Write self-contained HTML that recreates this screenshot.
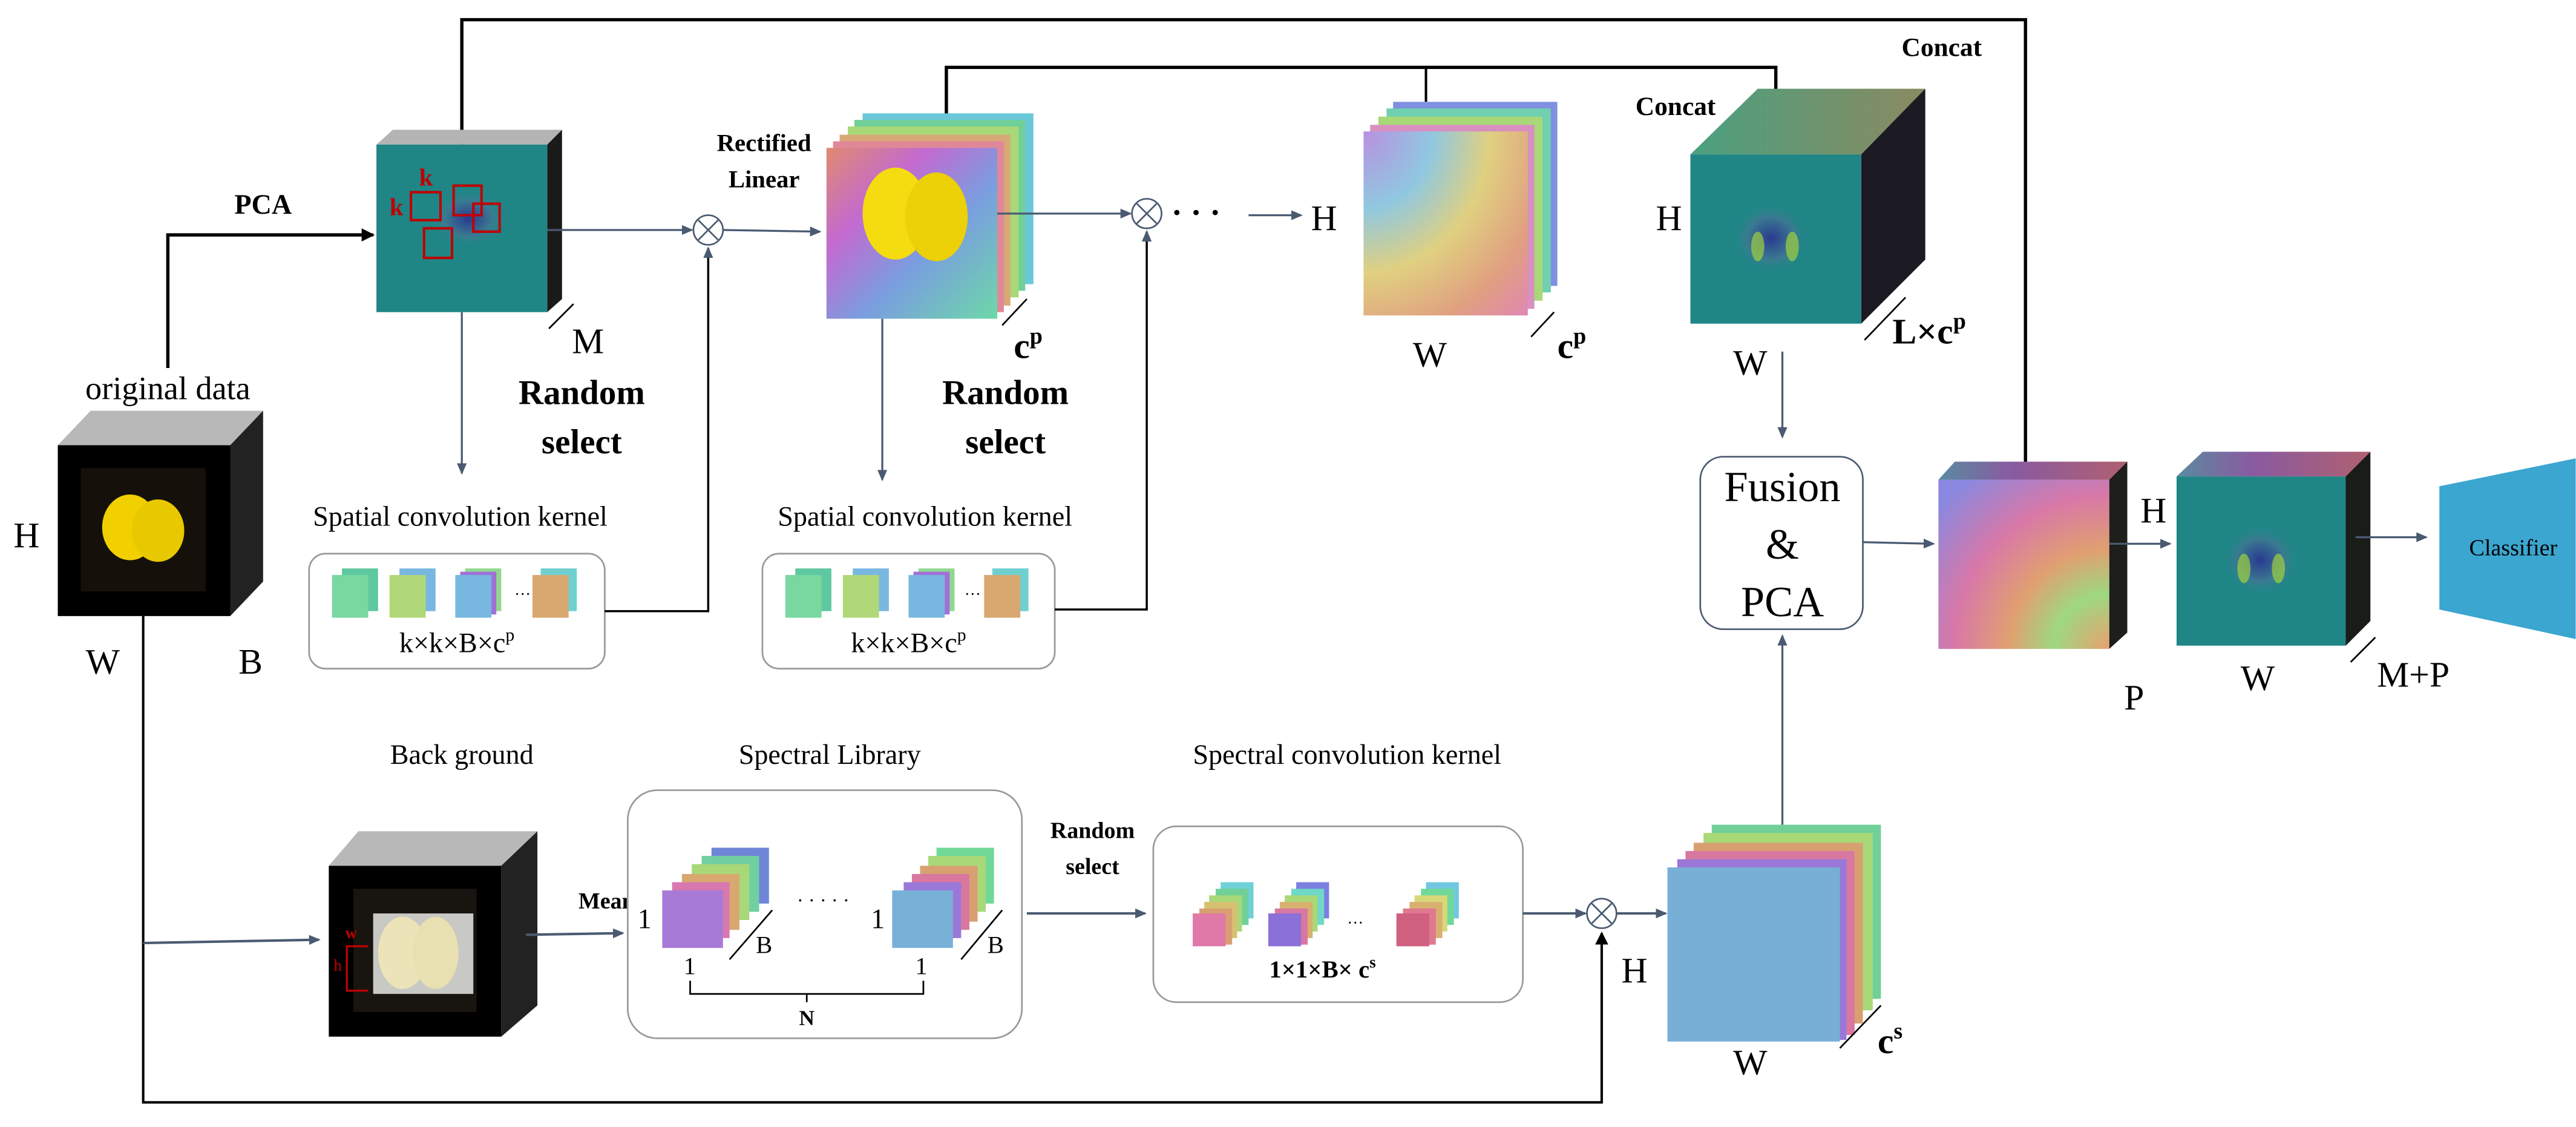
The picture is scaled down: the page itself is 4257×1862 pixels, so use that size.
<!DOCTYPE html>
<html><head><meta charset="utf-8"><style>html,body{margin:0;padding:0;background:#fff}svg{display:block}svg text{font-family:"Liberation Serif","Times New Roman",serif}</style></head><body>
<svg width="4257" height="1862" viewBox="0 0 1568 686" xmlns="http://www.w3.org/2000/svg" font-family="Liberation Serif, serif">
<defs>
<marker id="ab" markerWidth="8" markerHeight="8" refX="7" refY="4" orient="auto" markerUnits="userSpaceOnUse"><path d="M0,0 L8,4 L0,8 z" fill="#000"/></marker>
<marker id="as" markerWidth="7" markerHeight="6" refX="6" refY="3" orient="auto" markerUnits="userSpaceOnUse"><path d="M0,0 L7,3 L0,6 z" fill="#4a5a72"/></marker>
<linearGradient id="rb" x1="0" y1="0" x2="1" y2="1"><stop offset="0" stop-color="#e08a70"/><stop offset=".3" stop-color="#c36ad0"/><stop offset=".6" stop-color="#7a9ee0"/><stop offset="1" stop-color="#6ed8a8"/></linearGradient>
<radialGradient id="rb2" cx="1" cy="1" r="1.3"><stop offset="0" stop-color="#e8a070"/><stop offset=".25" stop-color="#9ed880"/><stop offset=".45" stop-color="#e0a070"/><stop offset=".7" stop-color="#d878a8"/><stop offset="1" stop-color="#8a88e0"/></radialGradient>
<radialGradient id="rb3" cx="0" cy="0" r="1.4"><stop offset="0" stop-color="#b890e0"/><stop offset=".3" stop-color="#90c8e0"/><stop offset=".55" stop-color="#e0d080"/><stop offset=".8" stop-color="#e0a080"/><stop offset="1" stop-color="#e088b0"/></radialGradient>
<linearGradient id="tg" x1="0" x2="1"><stop offset="0" stop-color="#4aa080"/><stop offset="1" stop-color="#8a8a60"/></linearGradient>
<linearGradient id="tp" x1="0" x2="1"><stop offset="0" stop-color="#5a8aa0"/><stop offset=".4" stop-color="#8a5aa0"/><stop offset="1" stop-color="#b06070"/></linearGradient>
<radialGradient id="blob"><stop offset="0" stop-color="#2a3a90"/><stop offset=".6" stop-color="#3a7a90"/><stop offset="1" stop-color="#1f8a8a" stop-opacity="0"/></radialGradient>
</defs>

<polyline points="281,88 281,12 1233,12 1233,290" fill="none" stroke="#000" stroke-width="2" marker-end="url(#ab)"/>
<polyline points="576,70 576,41 1081,41 1081,93" fill="none" stroke="#000" stroke-width="2" marker-end="url(#ab)"/>
<line x1="868" y1="41" x2="868" y2="62" stroke="#000" stroke-width="1.5"/>
<polyline points="102,224 102,143 227,143" fill="none" stroke="#000" stroke-width="2" marker-end="url(#ab)"/>
<text x="160" y="130" font-size="17" font-weight="bold" text-anchor="middle">PCA</text>

<polygon points="35,271 55,250 160,250 140,271" fill="#b8b8b8"/>
<polygon points="140,271 160,250 160,354 140,375" fill="#222"/>
<rect x="35" y="271" width="105" height="104" fill="#000"/>
<rect x="49" y="285" width="76" height="75" fill="#15110a"/>
<ellipse cx="79" cy="321" rx="17" ry="20" fill="#f2d000"/><ellipse cx="96" cy="323" rx="16" ry="19" fill="#e8c800"/>
<text x="102" y="243" font-size="20" text-anchor="middle">original data</text>
<text x="8" y="333" font-size="22">H</text>
<text x="52" y="410" font-size="22">W</text>
<text x="145" y="410" font-size="22">B</text>

<polygon points="229,88 239,79 342,79 333,88" fill="#b4b4b4"/>
<polygon points="333,88 342,79 342,182 333,190" fill="#1a1a1a"/>
<rect x="229" y="88" width="104" height="102" fill="#1f8585"/>
<ellipse cx="285" cy="133" rx="24" ry="18" fill="url(#blob)"/>
<g fill="none" stroke="#c00000" stroke-width="1.5"><rect x="250" y="117" width="18" height="17"/><rect x="276" y="113" width="17" height="18"/><rect x="288" y="124" width="16" height="17"/><rect x="258" y="139" width="17" height="18"/></g>
<text x="255" y="113" font-size="15" font-weight="bold" fill="#c00000">k</text>
<text x="237" y="131" font-size="15" font-weight="bold" fill="#c00000">k</text>
<line x1="334" y1="200" x2="349" y2="185" stroke="#000" stroke-width="1"/>
<text x="348" y="215" font-size="22">M</text>
<line x1="333" y1="140" x2="421" y2="140" stroke="#4a5a72" stroke-width="1.2" marker-end="url(#as)"/>
<circle cx="431" cy="140" r="9" fill="#fff" stroke="#4a5a72"/><path d="M425,134 L437,146 M437,134 L425,146" stroke="#4a5a72"/>
<line x1="440" y1="140" x2="499" y2="141" stroke="#4a5a72" stroke-width="1.2" marker-end="url(#as)"/>
<text x="465" y="92" font-size="15" font-weight="bold" text-anchor="middle">Rectified</text>
<text x="465" y="114" font-size="15" font-weight="bold" text-anchor="middle">Linear</text>

<rect x="525" y="69" width="104" height="104" fill="#6ac8d8"/>
<rect x="520" y="73" width="104" height="104" fill="#70d098"/>
<rect x="516" y="77" width="104" height="104" fill="#a8d878"/>
<rect x="511" y="82" width="104" height="104" fill="#d8a878"/>
<rect x="507" y="86" width="104" height="104" fill="#e08898"/>
<rect x="503" y="90" width="104" height="104" fill="url(#rb)"/>
<ellipse cx="545" cy="130" rx="20" ry="28" fill="#f4dc10"/><ellipse cx="570" cy="132" rx="19" ry="27" fill="#ecd008"/>
<line x1="610" y1="198" x2="625" y2="182" stroke="#000"/>
<text x="617" y="218" font-size="22" font-weight="bold">c<tspan font-size="14" dy="-9">p</tspan></text>
<line x1="607" y1="130" x2="688" y2="130" stroke="#4a5a72" stroke-width="1.2" marker-end="url(#as)"/>
<circle cx="698" cy="130" r="9" fill="#fff" stroke="#4a5a72"/><path d="M692,124 L704,136 M704,124 L692,136" stroke="#4a5a72"/>
<text x="713" y="136" font-size="20" font-weight="bold">· · ·</text>
<line x1="760" y1="131" x2="792" y2="131" stroke="#4a5a72" stroke-width="1.2" marker-end="url(#as)"/>
<text x="798" y="140" font-size="22">H</text>

<text x="354" y="246" font-size="21" font-weight="bold" text-anchor="middle">Random</text>
<text x="354" y="276" font-size="21" font-weight="bold" text-anchor="middle">select</text>
<text x="612" y="246" font-size="21" font-weight="bold" text-anchor="middle">Random</text>
<text x="612" y="276" font-size="21" font-weight="bold" text-anchor="middle">select</text>
<line x1="281" y1="190" x2="281" y2="288" stroke="#4a5a72" stroke-width="1.2" marker-end="url(#as)"/>
<line x1="537" y1="194" x2="537" y2="292" stroke="#4a5a72" stroke-width="1.2" marker-end="url(#as)"/>
<text x="280" y="320" font-size="17" text-anchor="middle">Spatial convolution kernel</text>
<text x="563" y="320" font-size="17" text-anchor="middle">Spatial convolution kernel</text>

<g>
<rect x="188" y="337" width="180" height="70" rx="10" fill="#fff" stroke="#999"/>
<rect x="208" y="346" width="22" height="26" fill="#60c8a0"/><rect x="202" y="350" width="22" height="26" fill="#78d8a0"/>
<rect x="243" y="346" width="22" height="26" fill="#78b8e0"/><rect x="237" y="350" width="22" height="26" fill="#b0d878"/>
<rect x="283" y="346" width="22" height="26" fill="#90d890"/><rect x="280" y="348" width="22" height="26" fill="#a070d8"/><rect x="277" y="350" width="22" height="26" fill="#78b8e0"/>
<text x="313" y="365" font-size="10">···</text>
<rect x="329" y="346" width="22" height="26" fill="#70d0d0"/><rect x="324" y="350" width="22" height="26" fill="#d8a870"/>
<text x="278" y="397" font-size="17" text-anchor="middle">k×k×B×c<tspan font-size="11" dy="-7">p</tspan></text>
</g>
<g>
<rect x="464" y="337" width="178" height="70" rx="10" fill="#fff" stroke="#999"/>
<rect x="484" y="346" width="22" height="26" fill="#60c8a0"/><rect x="478" y="350" width="22" height="26" fill="#78d8a0"/>
<rect x="519" y="346" width="22" height="26" fill="#78b8e0"/><rect x="513" y="350" width="22" height="26" fill="#b0d878"/>
<rect x="559" y="346" width="22" height="26" fill="#90d890"/><rect x="556" y="348" width="22" height="26" fill="#a070d8"/><rect x="553" y="350" width="22" height="26" fill="#78b8e0"/>
<text x="587" y="365" font-size="10">···</text>
<rect x="604" y="346" width="22" height="26" fill="#70d0d0"/><rect x="599" y="350" width="22" height="26" fill="#d8a870"/>
<text x="553" y="397" font-size="17" text-anchor="middle">k×k×B×c<tspan font-size="11" dy="-7">p</tspan></text>
</g>
<polyline points="368,372 431,372 431,151" fill="none" stroke="#000" stroke-width="1.3" marker-end="url(#as)"/>
<polyline points="642,371 698,371 698,141" fill="none" stroke="#000" stroke-width="1.3" marker-end="url(#as)"/>

<rect x="848" y="62" width="100" height="112" fill="#8090e0"/>
<rect x="844" y="66" width="100" height="112" fill="#70d0b0"/>
<rect x="839" y="71" width="100" height="112" fill="#a8d878"/>
<rect x="834" y="76" width="100" height="112" fill="#d890c0"/>
<rect x="830" y="80" width="100" height="112" fill="url(#rb3)"/>
<line x1="932" y1="205" x2="946" y2="190" stroke="#000"/>
<text x="860" y="223" font-size="22">W</text>
<text x="948" y="218" font-size="22" font-weight="bold">c<tspan font-size="14" dy="-9">p</tspan></text>

<text x="1020" y="70" font-size="16" font-weight="bold" text-anchor="middle">Concat</text>
<text x="1182" y="34" font-size="16" font-weight="bold" text-anchor="middle">Concat</text>
<polygon points="1029,94 1070,54 1172,54 1133,94" fill="url(#tg)"/>
<polygon points="1133,94 1172,54 1172,158 1133,197" fill="#1c1a22"/>
<rect x="1029" y="94" width="104" height="103" fill="#1f8585"/>
<ellipse cx="1078" cy="145" rx="24" ry="22" fill="url(#blob)"/>
<ellipse cx="1070" cy="150" rx="4" ry="9" fill="#a0d040" opacity=".7"/><ellipse cx="1091" cy="150" rx="4" ry="9" fill="#a0d040" opacity=".7"/>
<line x1="1135" y1="207" x2="1160" y2="181" stroke="#000"/>
<text x="1008" y="140" font-size="22">H</text>
<text x="1055" y="228" font-size="22">W</text>
<text x="1152" y="209" font-size="22" font-weight="bold">L×c<tspan font-size="14" dy="-9">p</tspan></text>
<line x1="1085" y1="214" x2="1085" y2="266" stroke="#4a5a72" stroke-width="1.2" marker-end="url(#as)"/>
<rect x="1035" y="278" width="99" height="105" rx="14" fill="#fff" stroke="#4a5a72"/>
<text x="1085" y="305" font-size="26" text-anchor="middle">Fusion</text>
<text x="1085" y="340" font-size="26" text-anchor="middle">&amp;</text>
<text x="1085" y="375" font-size="26" text-anchor="middle">PCA</text>
<line x1="1085" y1="502" x2="1085" y2="387" stroke="#4a5a72" stroke-width="1.2" marker-end="url(#as)"/>
<line x1="1134" y1="330" x2="1177" y2="331" stroke="#4a5a72" stroke-width="1.2" marker-end="url(#as)"/>

<polygon points="1180,292 1190,281 1295,281 1284,292" fill="url(#tp)"/>
<polygon points="1284,292 1295,281 1295,385 1284,395" fill="#1e1e1a"/>
<rect x="1180" y="292" width="104" height="103" fill="url(#rb2)"/>
<line x1="1284" y1="331" x2="1321" y2="331" stroke="#4a5a72" stroke-width="1.2" marker-end="url(#as)"/>
<text x="1303" y="318" font-size="22">H</text>
<text x="1293" y="432" font-size="22">P</text>

<polygon points="1325,290 1341,275 1443,275 1428,290" fill="url(#tp)"/>
<polygon points="1428,290 1443,275 1443,378 1428,393" fill="#1a1c18"/>
<rect x="1325" y="290" width="103" height="103" fill="#1f8585"/>
<ellipse cx="1376" cy="341" rx="24" ry="22" fill="url(#blob)"/>
<ellipse cx="1366" cy="346" rx="4" ry="9" fill="#a0d040" opacity=".7"/><ellipse cx="1387" cy="346" rx="4" ry="9" fill="#a0d040" opacity=".7"/>
<line x1="1431" y1="403" x2="1446" y2="388" stroke="#000"/>
<text x="1364" y="420" font-size="22">W</text>
<text x="1447" y="418" font-size="22">M+P</text>
<line x1="1434" y1="327" x2="1477" y2="327" stroke="#4a5a72" stroke-width="1.2" marker-end="url(#as)"/>
<polygon points="1485,296 1568,279 1568,389 1485,371" fill="#3ba6d0"/>
<text x="1530" y="338" font-size="14" text-anchor="middle">Classifier</text>

<polyline points="87,375 87,671 975,671 975,568" fill="none" stroke="#000" stroke-width="1.5" marker-end="url(#ab)"/>
<line x1="87" y1="574" x2="194" y2="572" stroke="#4a5a72" stroke-width="1.5" marker-end="url(#as)"/>
<text x="281" y="465" font-size="17" text-anchor="middle">Back ground</text>
<text x="505" y="465" font-size="17" text-anchor="middle">Spectral Library</text>
<text x="820" y="465" font-size="17" text-anchor="middle">Spectral convolution kernel</text>

<polygon points="200,527 218,506 327,506 305,527" fill="#b8b8b8"/>
<polygon points="305,527 327,506 327,612 305,631" fill="#222"/>
<rect x="200" y="527" width="105" height="104" fill="#000"/>
<rect x="215" y="541" width="75" height="75" fill="#181410"/>
<rect x="227" y="556" width="61" height="49" fill="#c8c8c4"/>
<ellipse cx="245" cy="580" rx="15" ry="22" fill="#ece4b8"/><ellipse cx="265" cy="580" rx="14" ry="22" fill="#e8e0b0"/>
<polyline points="224,576 211,576 211,603 224,603" fill="none" stroke="#c00000" stroke-width="1.2"/>
<text x="210" y="571" font-size="10" font-weight="bold" fill="#c00000">w</text>
<text x="203" y="591" font-size="10" fill="#c00000">h</text>
<text x="352" y="553" font-size="14" font-weight="bold">Mean</text>
<line x1="320" y1="569" x2="379" y2="568" stroke="#4a5a72" stroke-width="1.5" marker-end="url(#as)"/>

<rect x="382" y="481" width="240" height="151" rx="18" fill="#fff" stroke="#999"/>
<g>
<rect x="433" y="516" width="35" height="34" fill="#6f85d8"/>
<rect x="427" y="521" width="35" height="34" fill="#70d0a0"/>
<rect x="421" y="526" width="35" height="34" fill="#a8d878"/>
<rect x="415" y="532" width="35" height="34" fill="#d8a870"/>
<rect x="409" y="537" width="35" height="34" fill="#d878b0"/>
<rect x="403" y="542" width="37" height="35" fill="#a87ad8"/>
</g>
<g>
<rect x="570" y="516" width="35" height="34" fill="#70d898"/>
<rect x="565" y="521" width="35" height="34" fill="#a8d878"/>
<rect x="560" y="527" width="35" height="34" fill="#d8a070"/>
<rect x="555" y="532" width="35" height="34" fill="#d878a0"/>
<rect x="550" y="537" width="35" height="34" fill="#9a78d8"/>
<rect x="543" y="542" width="37" height="35" fill="#78b0d8"/>
</g>
<text x="485" y="552" font-size="12">· · · · ·</text>
<text x="388" y="565" font-size="17">1</text>
<text x="530" y="565" font-size="17">1</text>
<line x1="444" y1="584" x2="470" y2="554" stroke="#000"/><line x1="585" y1="584" x2="610" y2="554" stroke="#000"/>
<text x="460" y="580" font-size="15">B</text><text x="601" y="580" font-size="15">B</text>
<text x="416" y="593" font-size="15">1</text><text x="557" y="593" font-size="15">1</text>
<polyline points="420,597 420,605 562,605 562,597" fill="none" stroke="#000"/>
<line x1="491" y1="605" x2="491" y2="610" stroke="#000"/>
<text x="491" y="624" font-size="13" font-weight="bold" text-anchor="middle">N</text>

<text x="665" y="510" font-size="14" font-weight="bold" text-anchor="middle">Random</text>
<text x="665" y="532" font-size="14" font-weight="bold" text-anchor="middle">select</text>
<line x1="625" y1="556" x2="697" y2="556" stroke="#4a5a72" stroke-width="1.5" marker-end="url(#as)"/>

<rect x="702" y="503" width="225" height="107" rx="14" fill="#fff" stroke="#999"/>
<g>
<rect x="743" y="537" width="20" height="22" fill="#70d0d8"/><rect x="740" y="541" width="20" height="22" fill="#70d098"/><rect x="736" y="545" width="20" height="22" fill="#a8d878"/><rect x="733" y="549" width="20" height="22" fill="#d8c070"/><rect x="730" y="553" width="20" height="22" fill="#d8a070"/><rect x="726" y="556" width="20" height="20" fill="#e078a8"/>
<rect x="789" y="537" width="20" height="22" fill="#7a80e0"/><rect x="786" y="541" width="20" height="22" fill="#70d8c8"/><rect x="782" y="545" width="20" height="22" fill="#a8d878"/><rect x="779" y="549" width="20" height="22" fill="#d8b070"/><rect x="776" y="553" width="20" height="22" fill="#d878a0"/><rect x="772" y="556" width="20" height="20" fill="#8a70d8"/>
<text x="820" y="565" font-size="10">···</text>
<rect x="868" y="537" width="20" height="22" fill="#70c8e0"/><rect x="865" y="541" width="20" height="22" fill="#70d898"/><rect x="861" y="545" width="20" height="22" fill="#d8d878"/><rect x="858" y="549" width="20" height="22" fill="#d8b070"/><rect x="854" y="553" width="20" height="22" fill="#e07890"/><rect x="850" y="556" width="20" height="20" fill="#d06080"/>
</g>
<text x="805" y="595" font-size="15" font-weight="bold" text-anchor="middle">1×1×B× c<tspan font-size="10" dy="-6">s</tspan></text>
<line x1="927" y1="556" x2="965" y2="556" stroke="#4a5a72" stroke-width="1.5" marker-end="url(#as)"/>
<circle cx="975" cy="556" r="9" fill="#fff" stroke="#4a5a72"/><path d="M969,550 L981,562 M981,550 L969,562" stroke="#4a5a72"/>
<line x1="984" y1="556" x2="1014" y2="556" stroke="#4a5a72" stroke-width="1.5" marker-end="url(#as)"/>
<text x="987" y="598" font-size="22">H</text>

<rect x="1042" y="502" width="103" height="106" fill="#70d098"/>
<rect x="1037" y="507" width="103" height="108" fill="#a8d878"/>
<rect x="1031" y="513" width="103" height="110" fill="#d8a070"/>
<rect x="1026" y="518" width="103" height="112" fill="#d878a0"/>
<rect x="1021" y="523" width="103" height="110" fill="#9a78d8"/>
<rect x="1015" y="528" width="105" height="106" fill="#78afd6"/>
<line x1="1120" y1="638" x2="1145" y2="612" stroke="#000"/>
<text x="1055" y="654" font-size="22">W</text>
<text x="1143" y="641" font-size="22" font-weight="bold">c<tspan font-size="14" dy="-9">s</tspan></text>
</svg>
</body></html>
